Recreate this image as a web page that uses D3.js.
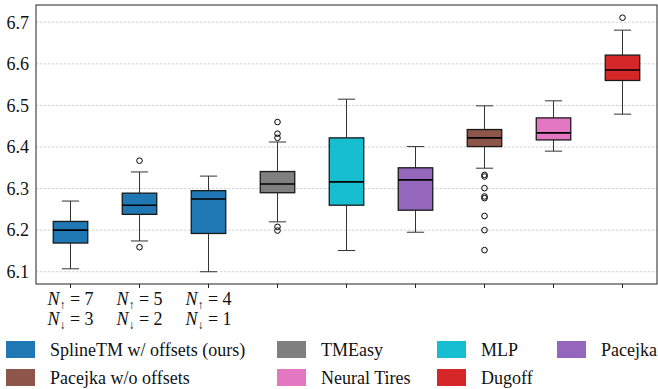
<!DOCTYPE html>
<html>
<head>
<meta charset="utf-8">
<script src="https://cdn.jsdelivr.net/npm/d3@7"></script>
<style>
  body { margin: 0; background: #fff; }
</style>
</head>
<body>
<div id="chart"></div>
<script>
// categories and box statistics
var categories = ["SplineTM w/ offsets (ours)", "SplineTM A", "SplineTM B", "TMEasy", "MLP",
	"Pacejka", "Pacejka w/o offsets", "Neural Tires", "Dugoff"];
var boxColors = ["#1f77b4", "#1f77b4", "#1f77b4", "#7f7f7f", "#17becf",
	"#9467bd", "#8c564b", "#e377c2", "#d62728"];
var whiskLow  = [6.107, 6.174, 6.100, 6.220, 6.151, 6.195, 6.349, 6.390, 6.479];
var q1        = [6.169, 6.238, 6.192, 6.290, 6.260, 6.248, 6.401, 6.417, 6.560];
var medians   = [6.200, 6.260, 6.275, 6.311, 6.316, 6.321, 6.422, 6.434, 6.585];
var q3        = [6.221, 6.289, 6.295, 6.341, 6.422, 6.350, 6.442, 6.470, 6.621];
var whiskHigh = [6.270, 6.340, 6.330, 6.412, 6.515, 6.401, 6.499, 6.511, 6.681];
var outliers  = [
	[],
	[6.367, 6.159],
	[],
	[6.460, 6.432, 6.422, 6.208, 6.199],
	[],
	[],
	[6.333, 6.329, 6.301, 6.281, 6.277, 6.234, 6.200, 6.152],
	[],
	[6.711]
];
var yTicks = [6.1, 6.2, 6.3, 6.4, 6.5, 6.6, 6.7];
var nUp = [7, 5, 4];
var nDown = [3, 2, 1];

// legend entries (index into categories / colours), laid out in rows
var legendRows = [[0, 3, 4, 5], [6, 7, 8]];
var legendCols = [6, 277, 437, 557];

var FONT = "'Liberation Serif', 'Times New Roman', serif";
var width = 658, height = 389;
var margin = {left: 36, right: 1, top: 5, bottom: 105};

var svg = d3.select("#chart").append("svg")
	.attr("width", width)
	.attr("height", height);

var x = d3.scaleBand()
	.domain(d3.range(categories.length))
	.range([margin.left, width - margin.right])
	.paddingInner(0)
	.paddingOuter(0);

var y = d3.scaleLinear()
	.domain([6.0705, 6.7415])
	.range([height - margin.bottom, margin.top]);

var boxW = x.bandwidth() * 0.5;
var capW = boxW * 0.5;

// grid
svg.append("g")
	.attr("class", "grid")
	.selectAll("line")
	.data(yTicks)
	.enter()
	.append("line")
	.attr("x1", margin.left)
	.attr("x2", width - margin.right)
	.attr("y1", function(d) { return y(d); })
	.attr("y2", function(d) { return y(d); })
	.attr("stroke", "#c8c8c8")
	.attr("stroke-width", 0.8)
	.attr("stroke-dasharray", "2.5,1.5");

// boxes
var box = svg.selectAll(".box")
	.data(d3.range(categories.length))
	.enter()
	.append("g")
	.attr("class", "box");

function cx(i) { return x(i) + x.bandwidth() / 2; }

box.append("line")
	.attr("x1", cx).attr("x2", cx)
	.attr("y1", function(i) { return y(whiskHigh[i]); })
	.attr("y2", function(i) { return y(q3[i]); })
	.attr("stroke", "#333").attr("stroke-width", 1);
box.append("line")
	.attr("x1", cx).attr("x2", cx)
	.attr("y1", function(i) { return y(q1[i]); })
	.attr("y2", function(i) { return y(whiskLow[i]); })
	.attr("stroke", "#333").attr("stroke-width", 1);
box.append("line")
	.attr("x1", function(i) { return cx(i) - capW / 2; })
	.attr("x2", function(i) { return cx(i) + capW / 2; })
	.attr("y1", function(i) { return y(whiskHigh[i]); })
	.attr("y2", function(i) { return y(whiskHigh[i]); })
	.attr("stroke", "#333").attr("stroke-width", 1);
box.append("line")
	.attr("x1", function(i) { return cx(i) - capW / 2; })
	.attr("x2", function(i) { return cx(i) + capW / 2; })
	.attr("y1", function(i) { return y(whiskLow[i]); })
	.attr("y2", function(i) { return y(whiskLow[i]); })
	.attr("stroke", "#333").attr("stroke-width", 1);
box.append("rect")
	.attr("x", function(i) { return cx(i) - boxW / 2; })
	.attr("y", function(i) { return y(q3[i]); })
	.attr("width", boxW)
	.attr("height", function(i) { return y(q1[i]) - y(q3[i]); })
	.attr("fill", function(i) { return boxColors[i]; })
	.attr("stroke", "#1a1a1a")
	.attr("stroke-width", 1.3);
box.append("line")
	.attr("x1", function(i) { return cx(i) - boxW / 2; })
	.attr("x2", function(i) { return cx(i) + boxW / 2; })
	.attr("y1", function(i) { return y(medians[i]); })
	.attr("y2", function(i) { return y(medians[i]); })
	.attr("stroke", "#000").attr("stroke-width", 1.6);
box.selectAll("circle")
	.data(function(i) { return outliers[i].map(function(v) { return {i: i, v: v}; }); })
	.enter()
	.append("circle")
	.attr("cx", function(d) { return cx(d.i); })
	.attr("cy", function(d) { return y(d.v); })
	.attr("r", 2.8)
	.attr("fill", "none")
	.attr("stroke", "#000")
	.attr("stroke-width", 1);

// axes
var yAxis = svg.append("g")
	.attr("transform", "translate(" + margin.left + ",0)")
	.call(d3.axisLeft(y).tickValues(yTicks).tickSize(0).tickPadding(7).tickFormat(d3.format(".1f")));
yAxis.select(".domain").remove();
yAxis.attr("font-family", null);
yAxis.selectAll("text")
	.style("font-family", FONT)
	.style("font-size", "18px")
	.attr("fill", "#111");

var xAxis = svg.append("g")
	.attr("transform", "translate(0," + (height - margin.bottom) + ")")
	.call(d3.axisBottom(x).tickSize(4).tickFormat(""));
xAxis.select(".domain").remove();
xAxis.selectAll("line").attr("stroke", "#222");

// frame
svg.append("rect")
	.attr("x", margin.left)
	.attr("y", margin.top)
	.attr("width", width - margin.right - margin.left)
	.attr("height", height - margin.bottom - margin.top)
	.attr("fill", "none")
	.attr("stroke", "#222")
	.attr("stroke-width", 1);

// N annotations under the first three boxes
function nLabel(i, arrow, n, yy) {
	var t = svg.append("text")
		.attr("x", cx(i))
		.attr("y", yy)
		.attr("text-anchor", "middle")
		.style("font-family", FONT)
		.style("font-size", "18px")
		.attr("fill", "#111");
	t.append("tspan").style("font-style", "italic").text("N");
	t.append("tspan").style("font-size", "12px").attr("dy", 4).text(arrow);
	t.append("tspan").attr("dy", -4).text(" = " + n);
}
nUp.forEach(function(n, i) { nLabel(i, "\u2191", n, 305); });
nDown.forEach(function(n, i) { nLabel(i, "\u2193", n, 325); });

// legend
legendRows.forEach(function(row, r) {
	var yy = 349.5 + r * 28;
	row.forEach(function(ci, c) {
		var g = svg.append("g").attr("transform", "translate(" + legendCols[c] + "," + yy + ")");
		g.append("rect")
			.attr("x", 0).attr("y", -8.5)
			.attr("width", 29).attr("height", 17)
			.attr("fill", boxColors[ci]);
		g.append("text")
			.attr("x", 44).attr("y", 6)
			.style("font-family", FONT)
			.style("font-size", "18px")
			.attr("fill", "#111")
			.text(categories[ci]);
	});
});
</script>
</body>
</html>
